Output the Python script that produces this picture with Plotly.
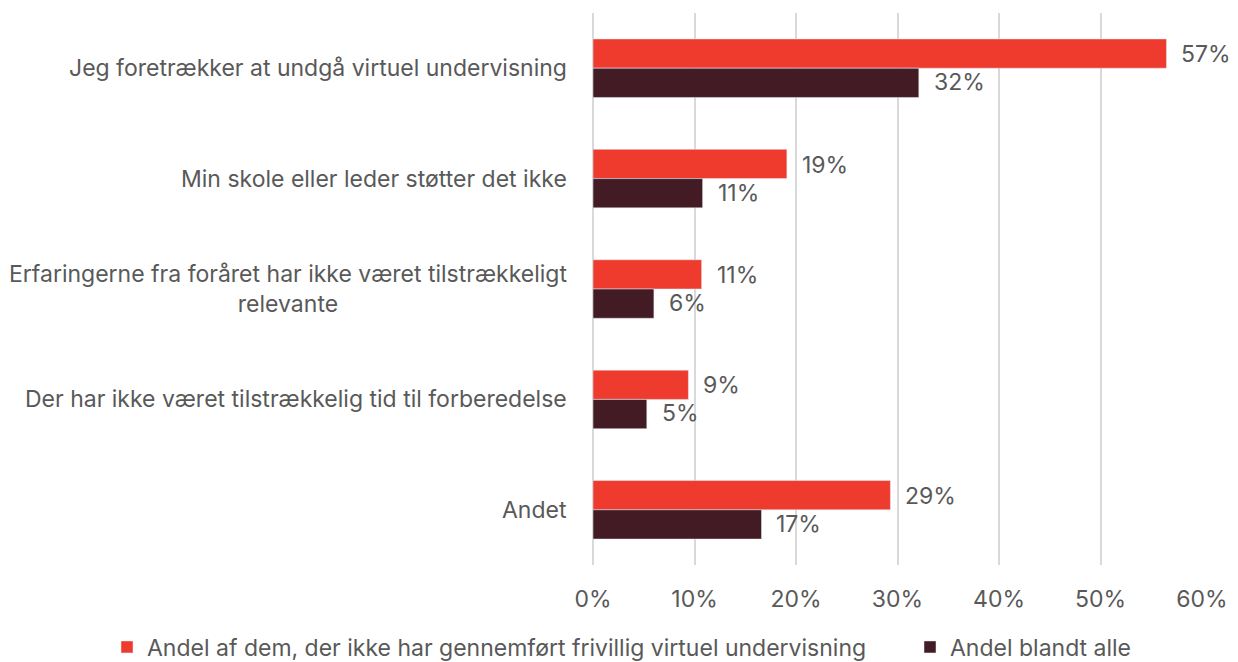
import plotly.graph_objects as go

categories = [
    "Jeg foretrækker at undgå virtuel undervisning",
    "Min skole eller leder støtter det ikke",
    "Erfaringerne fra foråret har ikke været tilstrækkeligt<br>relevante",
    "Der har ikke været tilstrækkelig tid til forberedelse",
    "Andet",
]
series_names = [
    "Andel af dem, der ikke har gennemført frivillig virtuel undervisning",
    "Andel blandt alle",
]
values_not_done = [0.565, 0.191, 0.107, 0.094, 0.293]
values_all = [0.321, 0.108, 0.060, 0.053, 0.166]
labels_not_done = ["57%", "19%", "11%", "9%", "29%"]
labels_all = ["32%", "11%", "6%", "5%", "17%"]
tick_vals = [0, 0.1, 0.2, 0.3, 0.4, 0.5, 0.6]
tick_text = ["0%", "10%", "20%", "30%", "40%", "50%", "60%"]

RED = "#EE3B2E"
DARK = "#431B25"
TXT = "#595959"
FONT = "Inter"
FS = 23

fig = go.Figure()
fig.add_trace(go.Bar(
    y=categories, x=values_not_done, orientation="h", name=series_names[0],
    marker=dict(color=RED), legend="legend",
))
fig.add_trace(go.Bar(
    y=categories, x=values_all, orientation="h", name=series_names[1],
    marker=dict(color=DARK), legend="legend2",
))

for c in categories:
    fig.add_annotation(
        x=0, y=c, xref="paper", yref="y", text=c, showarrow=False,
        xanchor="right", align="center", xshift=-24,
        font=dict(color=TXT, size=FS, family=FONT),
    )

# data labels: red bar sits in the upper half of each group, dark in the lower
for i, c in enumerate(categories):
    fig.add_annotation(
        x=values_not_done[i], y=i, xref="x", yref="y", text=labels_not_done[i],
        showarrow=False, xanchor="left", xshift=13, yshift=14,
        font=dict(color=TXT, size=FS, family=FONT),
    )
    fig.add_annotation(
        x=values_all[i], y=i, xref="x", yref="y", text=labels_all[i],
        showarrow=False, xanchor="left", xshift=13, yshift=-14,
        font=dict(color=TXT, size=FS, family=FONT),
    )

leg_common = dict(
    orientation="h", xref="container", yref="container",
    yanchor="middle", xanchor="left",
    font=dict(size=FS, color=TXT, family=FONT),
    itemwidth=30, bgcolor="rgba(0,0,0,0)",
)
fig.update_layout(
    width=1238, height=662,
    margin=dict(l=585, r=44, t=5, b=105),
    paper_bgcolor="white", plot_bgcolor="white",
    barmode="group", bargap=0.47, bargroupgap=0,
    font=dict(family=FONT, color=TXT, size=FS),
    showlegend=True,
    legend=dict(x=99 / 1238, y=23 / 662, **leg_common),
    legend2=dict(x=902 / 1238, y=23 / 662, **leg_common),
)
fig.update_xaxes(
    range=[0, 0.6], tickvals=tick_vals, ticktext=tick_text,
    showgrid=True, gridcolor="#D9D9D9", gridwidth=2,
    zeroline=True, zerolinecolor="#D9D9D9", zerolinewidth=2,
    ticks="", ticklabelstandoff=18,
    tickfont=dict(size=FS, color=TXT, family=FONT),
    showline=False,
)
fig.update_yaxes(autorange="reversed", showticklabels=False, showgrid=False, ticks="")

fig.write_html("out.html")
